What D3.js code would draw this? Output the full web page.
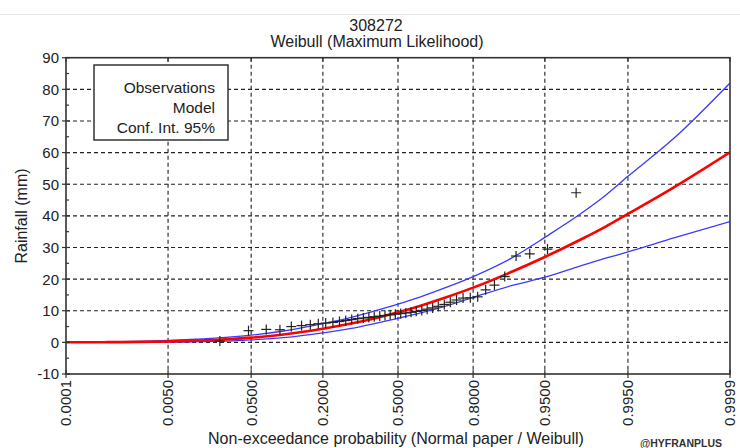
<!DOCTYPE html>
<html><head><meta charset="utf-8">
<script src="https://cdn.jsdelivr.net/npm/d3@7"></script>
<style>body{margin:0;background:#fff;overflow:hidden}svg{display:block;font-family:"Liberation Sans",Arial,sans-serif}</style>
</head><body><svg id="c" width="740" height="448"></svg>
<script>
// ---- data ----
const titleLines = ["308272", "Weibull (Maximum Likelihood)"];
const xTickProbs = [0.0001, 0.005, 0.05, 0.2, 0.5, 0.8, 0.95, 0.995, 0.9999];
const xTickLabels = ["0.0001", "0.0050", "0.0500", "0.2000", "0.5000", "0.8000", "0.9500", "0.9950", "0.9999"];
const yTicks = [-10, 0, 10, 20, 30, 40, 50, 60, 70, 80, 90];
const legendItems = ["Observations", "Model", "Conf. Int. 95%"];

const curveProbs = [0.0001, 0.0005, 0.001, 0.005, 0.01, 0.02, 0.05, 0.1, 0.2, 0.3, 0.4, 0.5, 0.6, 0.7, 0.8, 0.9, 0.95, 0.98, 0.99, 0.995, 0.999, 0.9999];
const modelValues = [0.02, 0.06, 0.09, 0.28, 0.47, 0.77, 1.49, 2.48, 4.3, 5.95, 7.65, 9.5, 11.6, 14.1, 17.3, 22.4, 27.0, 32.6, 36.6, 40.6, 49.0, 60.1];
const upperValues = [0.06, 0.15, 0.22, 0.6, 0.9, 1.35, 2.3, 3.6, 5.9, 7.9, 10.0, 12.1, 14.4, 17.2, 20.8, 26.8, 33.2, 40.8, 46.5, 52.5, 64.5, 82.0];
const lowerValues = [0.003, 0.01, 0.02, 0.08, 0.15, 0.3, 0.8, 1.5, 3.0, 4.4, 6.0, 7.6, 9.3, 11.4, 14.2, 18.0, 20.6, 24.3, 26.6, 28.6, 33.0, 38.2];

const obsProbs = [0.023, 0.047, 0.070, 0.093, 0.116, 0.140, 0.163, 0.186, 0.209, 0.233, 0.256, 0.279, 0.302, 0.326, 0.349, 0.372, 0.395, 0.419, 0.442, 0.465, 0.488, 0.512, 0.535, 0.558, 0.581, 0.605, 0.628, 0.651, 0.674, 0.698, 0.721, 0.744, 0.767, 0.791, 0.814, 0.837, 0.860, 0.884, 0.907, 0.930, 0.953, 0.977];
const obsValues = [0.4, 3.7, 4.1, 4.0, 5.0, 5.3, 5.6, 5.9, 6.1, 6.3, 6.6, 6.9, 7.2, 7.5, 7.7, 7.9, 8.1, 8.3, 8.5, 8.7, 8.9, 9.1, 9.3, 9.5, 9.8, 10.1, 10.5, 10.9, 11.4, 12.0, 12.7, 13.4, 14.0, 14.1, 14.4, 16.6, 18.1, 20.8, 27.3, 28.0, 29.5, 47.3];

// ---- normal probability paper ----
function probit(p) {
  const a = [-3.969683028665376e+01, 2.209460984245205e+02, -2.759285104469687e+02, 1.383577518672690e+02, -3.066479806614716e+01, 2.506628277459239e+00];
  const b = [-5.447609879822406e+01, 1.615858368580409e+02, -1.556989798598866e+02, 6.680131188771972e+01, -1.328068155288572e+01];
  const c = [-7.784894002430293e-03, -3.223964580411365e-01, -2.400758277161838e+00, -2.549671348283117e+00, 4.374664141464968e+00, 2.938163982698783e+00];
  const d = [7.784695709041462e-03, 3.224671290700398e-01, 2.445134137142996e+00, 3.754408181402090e+00];
  const pl = 0.02425;
  let q, r;
  if (p < pl) {
    q = Math.sqrt(-2 * Math.log(p));
    return (((((c[0]*q+c[1])*q+c[2])*q+c[3])*q+c[4])*q+c[5]) / ((((d[0]*q+d[1])*q+d[2])*q+d[3])*q+1);
  } else if (p <= 1 - pl) {
    q = p - 0.5; r = q*q;
    return (((((a[0]*r+a[1])*r+a[2])*r+a[3])*r+a[4])*r+a[5])*q / (((((b[0]*r+b[1])*r+b[2])*r+b[3])*r+b[4])*r+1);
  } else {
    q = Math.sqrt(-2 * Math.log(1 - p));
    return -(((((c[0]*q+c[1])*q+c[2])*q+c[3])*q+c[4])*q+c[5]) / ((((d[0]*q+d[1])*q+d[2])*q+d[3])*q+1);
  }
}

const L = 66, R = 730, T = 57.7, B = 374;
const zScale = d3.scaleLinear().domain([probit(0.0001), probit(0.9999)]).range([L, R]);
const x = p => zScale(probit(p));
const y = d3.scaleLinear().domain([-10, 90]).range([B, T]);

const svg = d3.select("#c");
svg.append("rect").attr("width", 740).attr("height", 448).attr("fill", "#fff");
svg.append("line").attr("x1", 0).attr("x2", 740).attr("y1", 14.5).attr("y2", 14.5).attr("stroke", "#e4e4e4").attr("stroke-width", 1);

// titles
svg.append("text").attr("x", 376).attr("y", 30.5).attr("text-anchor", "middle").attr("font-size", 16).attr("fill", "#222").text(titleLines[0]);
svg.append("text").attr("x", 377).attr("y", 46.5).attr("text-anchor", "middle").attr("font-size", 16).attr("fill", "#222").text(titleLines[1]);

// grid
const grid = svg.append("g").attr("stroke", "#222").attr("stroke-width", 1.1).attr("stroke-dasharray", "4,3");
grid.selectAll("line.v").data(xTickProbs.slice(1, -1)).join("line")
  .attr("x1", d => x(d)).attr("x2", d => x(d)).attr("y1", T).attr("y2", B);
grid.selectAll("line.h").data(yTicks.slice(1, -1)).join("line").attr("class", "h")
  .attr("x1", L).attr("x2", R).attr("y1", d => y(d)).attr("y2", d => y(d));

// clip
svg.append("clipPath").attr("id", "clip").append("rect").attr("x", L).attr("y", T).attr("width", R - L).attr("height", B - T);
const plot = svg.append("g").attr("clip-path", "url(#clip)");

const line = d3.line().x(d => x(d[0])).y(d => y(d[1])).curve(d3.curveMonotoneX);
const zip = vals => curveProbs.map((p, i) => [p, vals[i]]);
plot.append("path").datum(zip(upperValues)).attr("d", line).attr("fill", "none").attr("stroke", "#3a3aff").attr("stroke-width", 1.3);
plot.append("path").datum(zip(lowerValues)).attr("d", line).attr("fill", "none").attr("stroke", "#3a3aff").attr("stroke-width", 1.3);
plot.append("path").datum(zip(modelValues)).attr("d", line).attr("fill", "none").attr("stroke", "#ff0000").attr("stroke-width", 2.6);

// observations
const obs = plot.append("g").attr("stroke", "#222").attr("stroke-width", 1.2);
obsProbs.forEach((p, i) => {
  const cx = x(p), cy = y(obsValues[i]);
  obs.append("line").attr("x1", cx - 5).attr("x2", cx + 5).attr("y1", cy).attr("y2", cy);
  obs.append("line").attr("x1", cx).attr("x2", cx).attr("y1", cy - 5).attr("y2", cy + 5);
});

// frame
svg.append("rect").attr("x", L).attr("y", T).attr("width", R - L).attr("height", B - T).attr("fill", "none").attr("stroke", "#333").attr("stroke-width", 1.6);

// y ticks
const yt = svg.append("g").attr("stroke", "#333").attr("stroke-width", 1.2);
yTicks.forEach(v => { yt.append("line").attr("x1", L - 4).attr("x2", L + 4).attr("y1", y(v)).attr("y2", y(v)); });
yTicks.slice(0, -1).forEach(v => { yt.append("line").attr("x1", L).attr("x2", L + 3).attr("y1", y(v + 5)).attr("y2", y(v + 5)); });
svg.selectAll("text.yl").data(yTicks).join("text").attr("class", "yl")
  .attr("x", 59).attr("y", d => y(d)).attr("dy", "0.36em").attr("text-anchor", "end")
  .attr("font-size", 15).attr("fill", "#222").text(d => d);

// x ticks
const xt = svg.append("g").attr("stroke", "#333").attr("stroke-width", 1.2);
xTickProbs.forEach(p => {
  xt.append("line").attr("x1", x(p)).attr("x2", x(p)).attr("y1", B).attr("y2", B + 4);
  xt.append("line").attr("x1", x(p)).attr("x2", x(p)).attr("y1", T).attr("y2", T + 4);
  xt.append("line").attr("x1", x(p)).attr("x2", x(p)).attr("y1", B - 4).attr("y2", B);
});
svg.selectAll("text.xl").data(xTickProbs).join("text").attr("class", "xl")
  .attr("transform", d => `translate(${x(d)},${B + 6}) rotate(-90)`)
  .attr("text-anchor", "end").attr("dy", "0.36em").attr("font-size", 15).attr("fill", "#222")
  .text((d, i) => xTickLabels[i]);

// axis titles
svg.append("text").attr("transform", "translate(27,216) rotate(-90)").attr("text-anchor", "middle")
  .attr("font-size", 16).attr("fill", "#222").text("Rainfall (mm)");
svg.append("text").attr("x", 396).attr("y", 443.5).attr("text-anchor", "middle")
  .attr("font-size", 16).attr("fill", "#222").text("Non-exceedance probability (Normal paper / Weibull)");
svg.append("text").attr("x", 640).attr("y", 447).attr("font-size", 10.5).attr("font-weight", "bold").attr("fill", "#333").text("@HYFRANPLUS");

// legend
svg.append("rect").attr("x", 94).attr("y", 65).attr("width", 134).attr("height", 75).attr("fill", "#fff").attr("stroke", "#333").attr("stroke-width", 1.5);
svg.selectAll("text.lg").data(legendItems).join("text").attr("class", "lg")
  .attr("x", 215).attr("y", (d, i) => 93 + i * 20).attr("text-anchor", "end")
  .attr("font-size", 15.5).attr("fill", "#222").text(d => d);
</script></body></html>
